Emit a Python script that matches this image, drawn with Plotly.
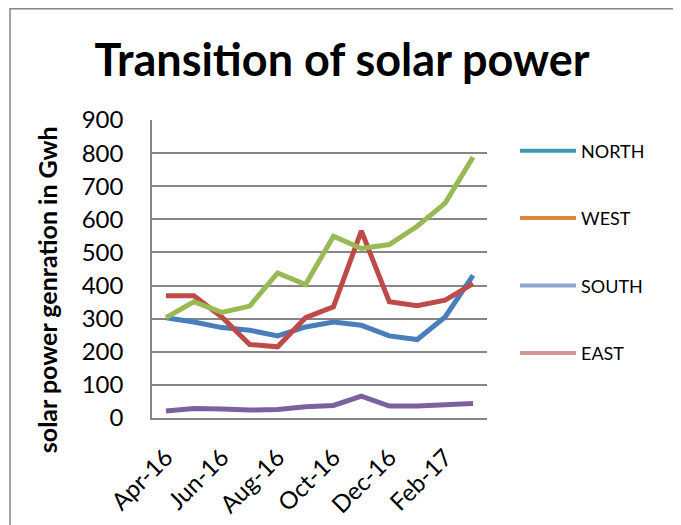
import plotly.graph_objects as go

months = ["Apr-16", "May-16", "Jun-16", "Jul-16", "Aug-16", "Sep-16",
          "Oct-16", "Nov-16", "Dec-16", "Jan-17", "Feb-17", "Mar-17"]
north = [303, 290, 273, 265, 248, 275, 290, 280, 248, 237, 305, 431]
west = [369, 369, 305, 222, 215, 303, 336, 565, 351, 339, 356, 406]
south = [303, 351, 319, 338, 438, 403, 549, 512, 524, 579, 649, 788]
east = [21, 29, 27, 24, 26, 34, 38, 66, 36, 36, 40, 44]

legend_names = ["NORTH", "WEST", "SOUTH", "EAST"]
legend_colors = ["#3C98B0", "#E0843A", "#8EA9D1", "#D49595"]
line_colors = ["#4A7EBB", "#BE4B48", "#98B954", "#7D60A0"]
y_ticks = [0, 100, 200, 300, 400, 500, 600, 700, 800, 900]

# page body has an 8px margin; pixel positions below are in figure coords
OFF = 8
W, H = 681, 525
L, R, T, B = 152 - OFF, 487 - OFF, 119.5 - OFF, 418 - OFF

def px(x):
    return (x - OFF - L) / (R - L)

def py(y):
    return (B - (y - OFF)) / (B - T)

fig = go.Figure()
for name, vals, col in zip(legend_names, [north, west, south, east], line_colors):
    fig.add_trace(go.Scatter(x=months, y=vals, mode="lines", name=name,
                             line=dict(color=col, width=5), showlegend=False))
for i, (name, col) in enumerate(zip(legend_names, legend_colors)):
    fig.add_trace(go.Scatter(x=[None], y=[None], mode="lines", name=name,
                             legendgroup=str(i),
                             line=dict(color=col, width=4)))

font_family = "Lato, 'Open Sans', sans-serif"

fig.update_layout(
    width=W, height=H,
    margin=dict(l=L, r=W - R, t=T, b=H - B),
    paper_bgcolor="white", plot_bgcolor="white",
    font=dict(family=font_family, color="black"),
    title=dict(text="<b>Transition of solar power</b>", xref="container", yref="container",
               x=(342 - OFF) / W, y=1 - (60 - OFF) / H, xanchor="center", yanchor="middle",
               font=dict(size=45, family=font_family, color="black")),
    showlegend=True,
    legend=dict(x=px(515), y=py(132), xanchor="left", yanchor="top",
                font=dict(size=18, family=font_family, color="black"),
                itemwidth=56,
                tracegroupgap=41, bgcolor="rgba(0,0,0,0)"),
    xaxis=dict(type="category", range=[-0.5, 11.5], tickmode="array",
               tickvals=months[::2], ticktext=months[::2], tickangle=-45,
               showgrid=False, showline=True, linecolor="#868686", linewidth=1.5,
               ticks="", ticklabelstandoff=14,
               tickfont=dict(size=24, family=font_family, color="black")),
    yaxis=dict(range=[0, 900], tickmode="array", tickvals=y_ticks,
               showgrid=True, gridcolor="#868686", gridwidth=1.5,
               showline=True, linecolor="#868686", linewidth=1.5,
               zeroline=False, ticks="", ticklabelstandoff=22,
               tickfont=dict(size=24, family=font_family, color="black")),
    annotations=[dict(text="<b>solar power genration in Gwh</b>", textangle=-90,
                      xref="paper", yref="paper", x=px(47), y=py(290),
                      xanchor="center", yanchor="middle", showarrow=False,
                      font=dict(size=25, family=font_family, color="black"))],
    shapes=[dict(type="rect", xref="paper", yref="paper",
                 x0=px(10), x1=px(677), y0=py(545), y1=py(8),
                 line=dict(color="#868686", width=1.5), fillcolor="rgba(0,0,0,0)",
                 layer="below")],
)

fig.write_html("out.html")
